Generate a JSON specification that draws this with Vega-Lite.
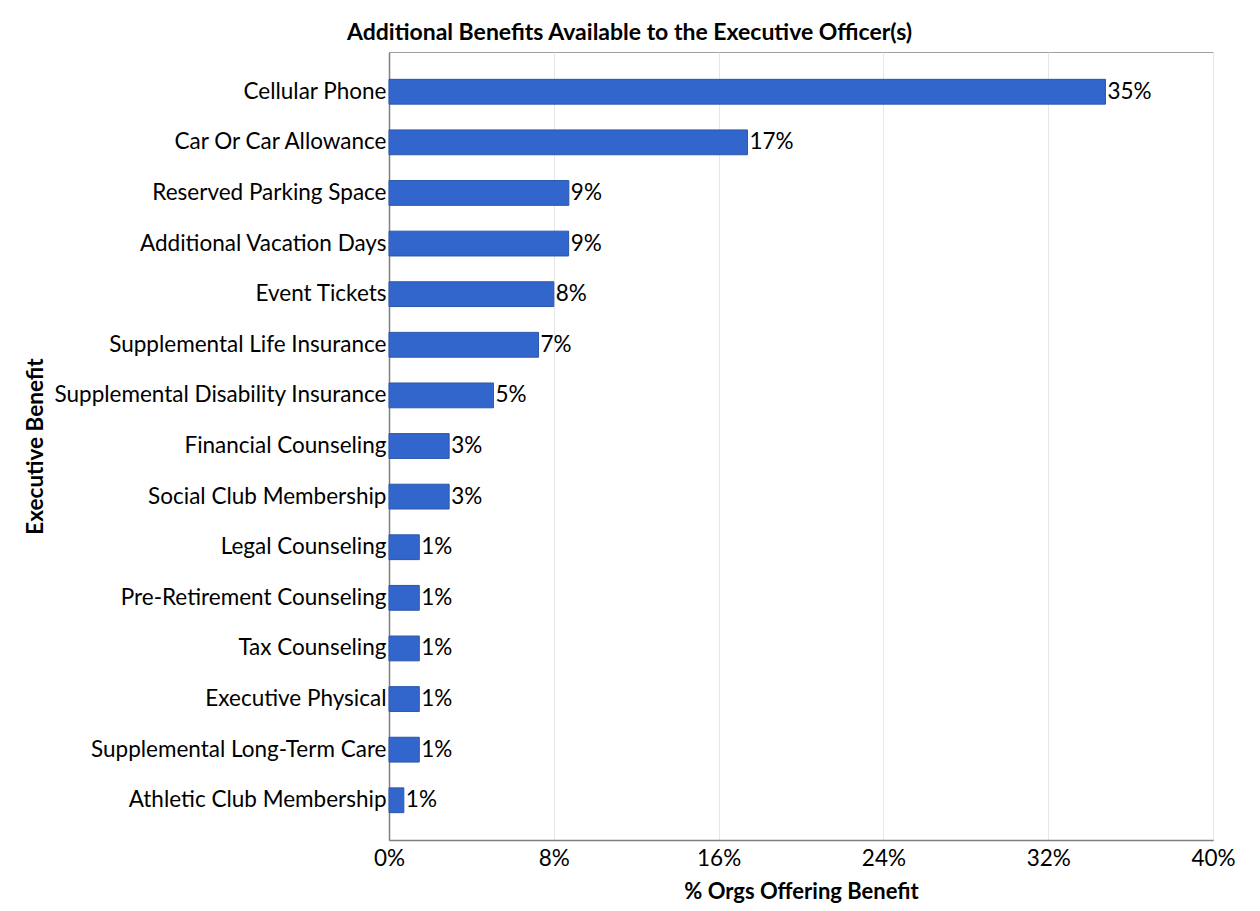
{
  "$schema": "https://vega.github.io/schema/vega-lite/v6.json",
  "autosize": {"type": "none"},
  "padding": {"left": 389, "top": 52, "right": 47, "bottom": 71},
  "width": 824,
  "height": 788,
  "background": "white",
  "title": {
    "text": "Additional Benefits Available to the Executive Officer(s)",
    "font": "Lato",
    "fontSize": 23,
    "fontWeight": "bold",
    "color": "black",
    "anchor": "middle",
    "frame": "bounds",
    "offset": 7
  },
  "data": {
    "values": [
      {"benefit": "Cellular Phone", "pct": 0.3478},
      {"benefit": "Car Or Car Allowance", "pct": 0.174},
      {"benefit": "Reserved Parking Space", "pct": 0.0873},
      {"benefit": "Additional Vacation Days", "pct": 0.0872},
      {"benefit": "Event Tickets", "pct": 0.08},
      {"benefit": "Supplemental Life Insurance", "pct": 0.0726},
      {"benefit": "Supplemental Disability Insurance", "pct": 0.0507},
      {"benefit": "Financial Counseling", "pct": 0.0292},
      {"benefit": "Social Club Membership", "pct": 0.0292},
      {"benefit": "Legal Counseling", "pct": 0.0147},
      {"benefit": "Pre-Retirement Counseling", "pct": 0.0147},
      {"benefit": "Tax Counseling", "pct": 0.0147},
      {"benefit": "Executive Physical", "pct": 0.0147},
      {"benefit": "Supplemental Long-Term Care", "pct": 0.0147},
      {"benefit": "Athletic Club Membership", "pct": 0.0072}
    ]
  },
  "encoding": {
    "y": {
      "field": "benefit",
      "type": "nominal",
      "sort": null,
      "scale": {"paddingInner": 0.51, "paddingOuter": 0.54},
      "axis": {
        "title": "Executive Benefit",
        "titleFont": "Lato",
        "titleFontSize": 22.5,
        "titleFontWeight": "bold",
        "titleColor": "black",
        "titleX": -354,
        "titleAngle": -90,
        "titleAnchor": "middle",
        "titleBaseline": "middle",
        "labelFont": "Lato",
        "labelFontSize": 22.5,
        "labelColor": "black",
        "labelPadding": 3,
        "labelLimit": 0,
        "ticks": false,
        "domainColor": "#7f7f7f",
        "domainWidth": 1.5
      }
    },
    "x": {
      "field": "pct",
      "type": "quantitative",
      "scale": {"domain": [0, 0.4], "nice": false},
      "axis": {
        "title": "% Orgs Offering Benefit",
        "titleFont": "Lato",
        "titleFontSize": 22,
        "titleFontWeight": "bold",
        "titleColor": "black",
        "titlePadding": 12,
        "format": ".0%",
        "values": [0, 0.08, 0.16, 0.24, 0.32, 0.4],
        "labelFont": "Lato",
        "labelFontSize": 22.5,
        "labelColor": "black",
        "labelPadding": 7,
        "labelFlush": false,
        "ticks": false,
        "grid": true,
        "gridColor": "#e6e6e6",
        "domainColor": "#7f7f7f",
        "domainWidth": 1.5
      }
    }
  },
  "layer": [
    {
      "mark": {"type": "bar", "color": "#3366cc", "stroke": "#2a55a8", "strokeWidth": 1}
    },
    {
      "mark": {"type": "text", "align": "left", "baseline": "middle", "dx": 2, "font": "Lato", "fontSize": 22.5, "color": "black"},
      "encoding": {
        "text": {"field": "pct", "type": "quantitative", "format": ".0%"}
      }
    }
  ],
  "config": {
    "view": {"stroke": "#a0a0a0", "strokeWidth": 1}
  }
}
